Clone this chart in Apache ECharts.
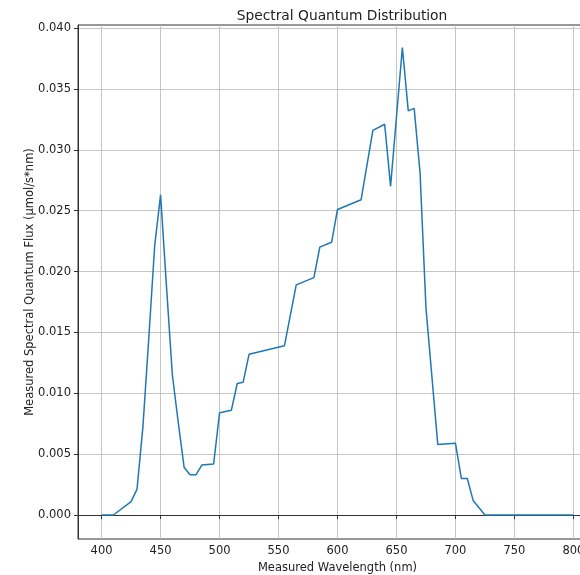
<!DOCTYPE html>
<html>
<head>
<meta charset="utf-8">
<script src="https://cdn.jsdelivr.net/npm/echarts@6/dist/echarts.min.js"></script>
<style>
html,body{margin:0;padding:0;background:#fff;}
#chart{width:580px;height:575px;}
</style>
</head>
<body>
<div id="chart"></div>
<script>
const wavelengths = [400, 410, 425, 430, 435, 440, 445, 450, 455, 460, 465, 470, 475, 480, 485, 495, 500, 510, 515, 520, 525, 555, 565, 580, 585, 595, 600, 620, 630, 640, 645, 655, 660, 665, 670, 675, 685, 700, 705, 710, 715, 725, 800];
const flux = [0, 0, 0.0011, 0.0021, 0.0072, 0.0145, 0.0221, 0.0263, 0.0188, 0.0115, 0.0076, 0.0039, 0.0033, 0.0033, 0.0041, 0.0042, 0.0084, 0.0086, 0.0108, 0.0109, 0.0132, 0.0139, 0.0189, 0.0195, 0.0220, 0.0224, 0.0251, 0.0259, 0.0316, 0.0321, 0.0270, 0.0384, 0.0332, 0.0334, 0.0281, 0.0170, 0.0058, 0.0059, 0.0030, 0.0030, 0.0012, 0, 0];
const xTicks = [400, 450, 500, 550, 600, 650, 700, 750, 800];
const yTicks = [0, 0.005, 0.010, 0.015, 0.020, 0.025, 0.030, 0.035, 0.040];

const seriesData = wavelengths.map((w, i) => [w, flux[i]]);
const font = 'DejaVu Sans';
const chart = echarts.init(document.getElementById('chart'), null, {renderer: 'canvas'});
chart.setOption({
  animation: false,
  backgroundColor: '#ffffff',
  title: {
    text: 'Spectral Quantum Distribution',
    left: 337, top: 4, textAlign: 'center',
    textStyle: {fontFamily: font, fontSize: 13.8, fontWeight: 'normal', color: '#222'}
  },
  grid: {left: 78, top: 25, width: 519, bottom: 36, outerBoundsMode: 'none', containLabel: false,
    show: true, borderColor: '#333', borderWidth: 1, backgroundColor: 'transparent'},
  xAxis: {
    type: 'value', min: 380, max: 820,
    name: 'Measured Wavelength (nm)', nameLocation: 'middle', nameGap: 22,
    nameTextStyle: {fontFamily: font, fontSize: 11.5, color: '#222'},
    axisLine: {show: true, lineStyle: {color: '#333', width: 1}},
    axisTick: {show: true, length: 4, inside: false, customValues: xTicks, lineStyle: {color: '#333'}},
    axisLabel: {customValues: xTicks, margin: 6, fontFamily: font, fontSize: 11.5, color: '#222'},
    splitLine: {show: true, lineStyle: {color: '#b8b8b8', width: 0.8}}
  },
  yAxis: {
    type: 'value', min: -0.00197, max: 0.04025,
    name: 'Measured Spectral Quantum Flux (µmol/s*nm)', nameLocation: 'middle', nameGap: 42,
    nameMoveOverlap: false,
    nameTextStyle: {fontFamily: font, fontSize: 11.5, color: '#222'},
    axisLine: {show: true, lineStyle: {color: '#333', width: 1}},
    axisTick: {show: true, length: 4, customValues: yTicks, lineStyle: {color: '#333'}},
    axisLabel: {customValues: yTicks, margin: 7, fontFamily: font, fontSize: 11.5, color: '#222',
      formatter: v => v.toFixed(3)},
    splitLine: {show: true, lineStyle: {color: '#b8b8b8', width: 0.8}}
  },
  series: [{
    type: 'line', data: seriesData, showSymbol: false, symbol: 'none',
    lineStyle: {color: '#1f77b4', width: 1.5}, clip: true
  }]
});
</script>
</body>
</html>
